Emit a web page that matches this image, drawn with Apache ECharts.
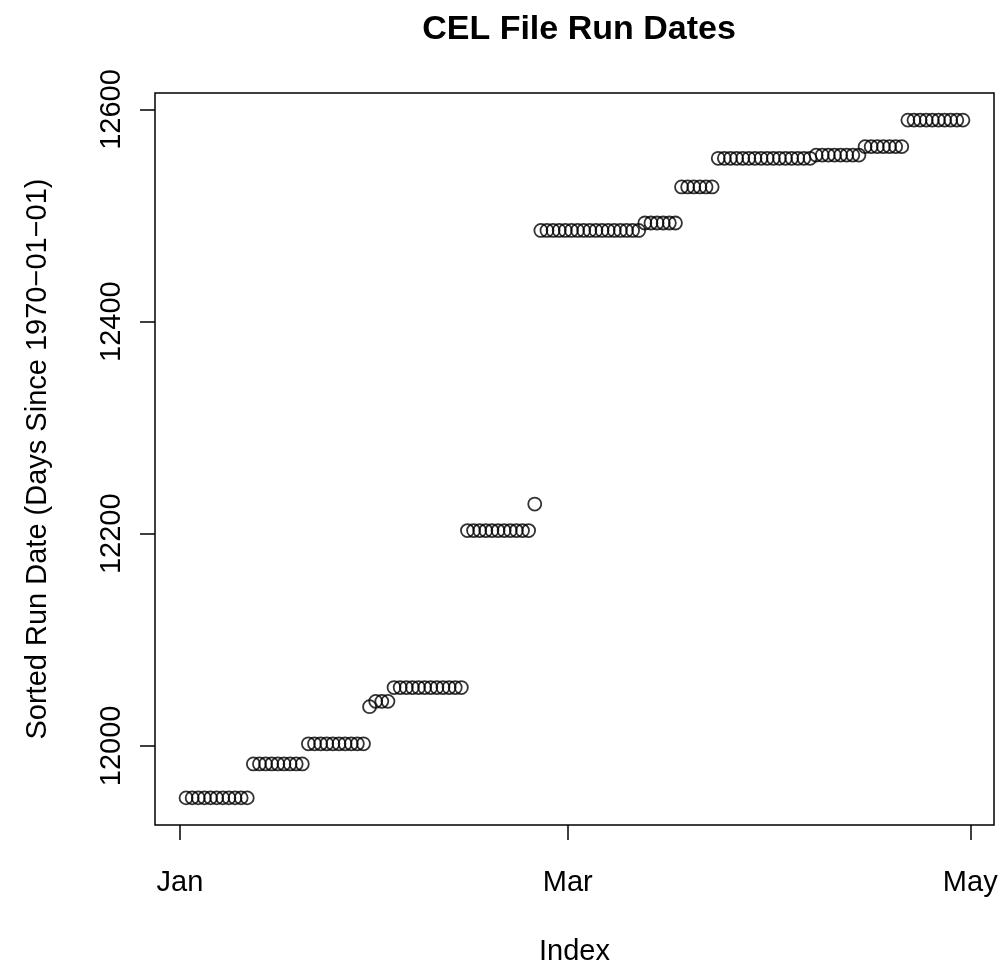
<!DOCTYPE html>
<html>
<head>
    <meta charset="UTF-8">
    <script src="https://cdn.jsdelivr.net/npm/echarts@6.0.0/dist/echarts.min.js"></script>
    <style>
        body { margin: 0; background: #fff; }
        #chartMain { width: 1000px; height: 964px; }
    </style>
</head>
<body>
<div id="chartMain"></div>

<script type="text/javascript">
    // sorted run dates, days since 1970-01-01 (one per CEL file)
    var runDates = [
        11951, 11951, 11951, 11951, 11951, 11951, 11951, 11951, 11951, 11951, 11951,
        11983, 11983, 11983, 11983, 11983, 11983, 11983, 11983, 11983,
        12002, 12002, 12002, 12002, 12002, 12002, 12002, 12002, 12002, 12002,
        12037,
        12042, 12042, 12042,
        12055, 12055, 12055, 12055, 12055, 12055, 12055, 12055, 12055, 12055, 12055, 12055,
        12203, 12203, 12203, 12203, 12203, 12203, 12203, 12203, 12203, 12203, 12203,
        12228,
        12486, 12486, 12486, 12486, 12486, 12486, 12486, 12486, 12486, 12486, 12486, 12486, 12486, 12486, 12486, 12486, 12486,
        12493, 12493, 12493, 12493, 12493, 12493,
        12527, 12527, 12527, 12527, 12527, 12527,
        12554, 12554, 12554, 12554, 12554, 12554, 12554, 12554, 12554, 12554, 12554, 12554, 12554, 12554, 12554, 12554,
        12557, 12557, 12557, 12557, 12557, 12557, 12557, 12557,
        12565, 12565, 12565, 12565, 12565, 12565, 12565,
        12590, 12590, 12590, 12590, 12590, 12590, 12590, 12590, 12590, 12590
    ];
    // month ticks on the index axis
    var monthTicks = [0, 63.4, 129.2];
    var monthLabels = ['Jan', 'Mar', 'May'];
    var yTicks = [12000, 12200, 12400, 12600];

    var points = [];
    for (var i = 0; i < runDates.length; i++) {
        points.push([i + 1, runDates[i]]);
    }

    // R style axis limits: 4% padding each side
    var n = runDates.length;
    var yMin = runDates[0], yMax = runDates[n - 1];
    var xPad = (n - 1) * 0.04, yPad = (yMax - yMin) * 0.04;

    var fontFam = "'Liberation Sans', Arial, sans-serif";

    var myChart = echarts.init(document.getElementById('chartMain'));
    var option = {
        backgroundColor: '#fff',
        animation: false,
        title: {
            text: 'CEL File Run Dates',
            left: 574,
            top: 8,
            textAlign: 'center',
            textStyle: {fontFamily: fontFam, fontSize: 34, fontWeight: 'bold', color: '#000'}
        },
        grid: {
            left: 155, right: 6, top: 93, bottom: 139,
            outerBoundsMode: 'none',
            show: true, borderColor: '#000', borderWidth: 1.5, backgroundColor: 'transparent'
        },
        xAxis: {
            type: 'value',
            min: 1 - xPad,
            max: n + xPad,
            name: 'Index',
            nameLocation: 'middle',
            nameGap: 112,
            nameTextStyle: {fontFamily: fontFam, fontSize: 29, color: '#000'},
            axisLine: {show: false, onZero: false},
            splitLine: {show: false},
            axisTick: {show: true, length: 15, customValues: monthTicks, lineStyle: {color: '#000', width: 1.5}},
            axisLabel: {
                customValues: monthTicks,
                margin: 43,
                fontFamily: fontFam, fontSize: 29, color: '#000',
                formatter: function (v) {
                    var k = monthTicks.indexOf(v);
                    return k >= 0 ? monthLabels[k] : '';
                }
            }
        },
        yAxis: {
            type: 'value',
            min: yMin - yPad,
            max: yMax + yPad,
            name: 'Sorted Run Date (Days Since 1970\u221201\u221201)',
            nameLocation: 'middle',
            nameGap: 103,
            nameTextStyle: {fontFamily: fontFam, fontSize: 29, color: '#000'},
            axisLine: {show: false, onZero: false},
            splitLine: {show: false},
            axisTick: {show: true, length: 15, customValues: yTicks, lineStyle: {color: '#000', width: 1.5}},
            axisLabel: {
                customValues: yTicks,
                rotate: 90,
                margin: 29,
                fontFamily: fontFam, fontSize: 29, color: '#000',
                formatter: function (v) { return String(v); }
            }
        },
        series: [
            {
                type: 'scatter',
                data: points,
                symbol: 'circle',
                symbolSize: 13,
                itemStyle: {color: 'transparent', borderColor: '#000', borderWidth: 1.8}
            }
        ]
    };
    myChart.setOption(option);
</script>
</body>
</html>
